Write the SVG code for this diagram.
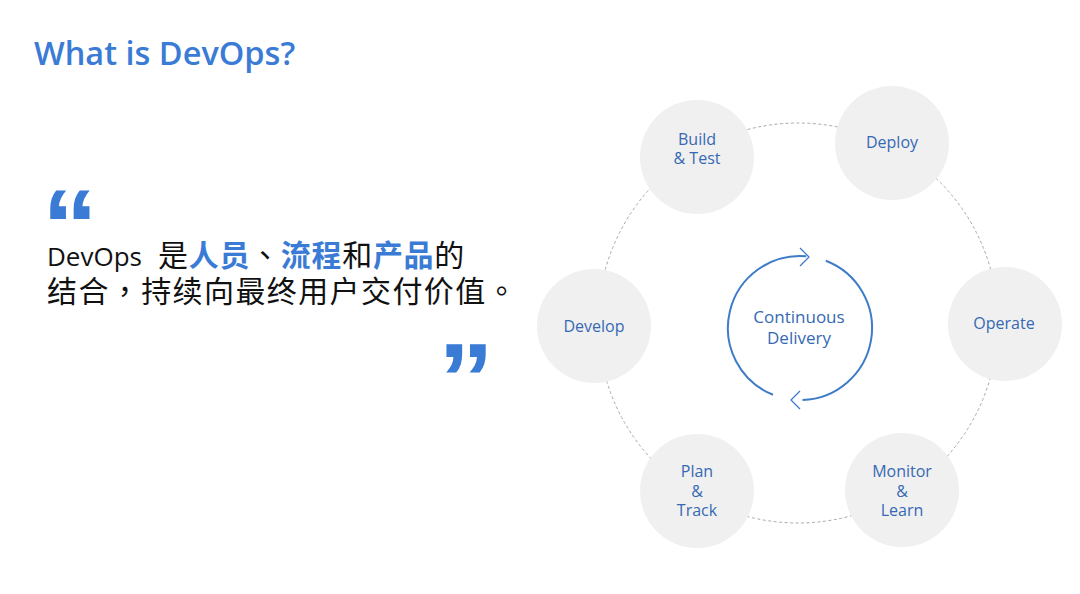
<svg xmlns="http://www.w3.org/2000/svg" width="1080" height="594" viewBox="0 0 1080 594">
  <defs>
    <style>
      .title { font-family: "Open Sans", "Noto Sans", sans-serif; font-weight: 600; font-size: 32.5px; fill: #3A7BD5; }
      .quote { font-family: "Liberation Sans", sans-serif; font-weight: bold; font-size: 100px; fill: #3A7BD5; }
      .body { font-family: "Noto Sans CJK TC", "Noto Sans CJK SC", sans-serif; font-size: 30px; fill: #111111; }
      .lat { font-family: "Open Sans", "Noto Sans", sans-serif; font-size: 26px; }
      .hl { fill: #3A7BD5; font-weight: bold; }
      .node circle { fill: #F0F0F0; }
      .lbl { font-family: "Open Sans", "Noto Sans", sans-serif; font-weight: 500; font-size: 16px; fill: #3669B4; text-anchor: middle; }
      .cd { font-family: "Open Sans", "Noto Sans", sans-serif; font-weight: 500; font-size: 17px; fill: #3669B4; text-anchor: middle; }
      .ring { fill: none; stroke: #A8A8A8; stroke-width: 1; stroke-dasharray: 3 2.5; }
      .cycle { fill: none; stroke: #3F7CC8; stroke-width: 2; }
      .head { fill: none; stroke: #3F7CC8; stroke-width: 1.3; }
    </style>
  </defs>
  <rect width="1080" height="594" fill="#FFFFFF"/>

  <text class="title" x="34" y="65">What is DevOps?</text>

  <g id="quote">
    <text class="quote" x="42" y="260" transform="translate(42 0) scale(1.12 1) translate(-42 0)">“</text>
    <text class="quote" x="438" y="413" transform="translate(438 0) scale(1.12 1) translate(-438 0)">”</text>
    <text class="body" x="47" y="266" xml:space="preserve"><tspan class="lat">DevOps </tspan><tspan x="158" letter-spacing="0.7">是<tspan class="hl">人员</tspan>、<tspan class="hl">流程</tspan>和<tspan class="hl">产品</tspan>的</tspan></text>
    <text class="body" x="47" y="302" letter-spacing="1.4">结合，持续向最终用户交付价值。</text>
  </g>

  <g id="connectors">
    <circle class="ring" cx="798" cy="323" r="200"/>
    <path class="cycle" d="M 773 394.8 A 72 72 0 0 1 806.3 256.3"/>
    <path class="cycle" d="M 825.8 260.8 A 72 72 0 0 1 802.5 400"/>
    <polyline class="head" points="800,248 809,257 800,266"/>
    <polyline class="head" points="800,391 791,400 800,409"/>
  </g>

  <g id="node-build" class="node">
    <circle cx="697" cy="157" r="57"/>
    <text class="lbl" x="697" y="145">Build</text>
    <text class="lbl" x="697" y="164">&amp; Test</text>
  </g>
  <g id="node-deploy" class="node">
    <circle cx="892" cy="143" r="57"/>
    <text class="lbl" x="892" y="148">Deploy</text>
  </g>
  <g id="node-operate" class="node">
    <circle cx="1005" cy="324" r="57"/>
    <text class="lbl" x="1004" y="329">Operate</text>
  </g>
  <g id="node-monitor" class="node">
    <circle cx="902" cy="490" r="57"/>
    <text class="lbl" x="902" y="477">Monitor</text>
    <text class="lbl" x="902" y="497">&amp;</text>
    <text class="lbl" x="902" y="516">Learn</text>
  </g>
  <g id="node-plan" class="node">
    <circle cx="697" cy="491" r="57"/>
    <text class="lbl" x="697" y="477">Plan</text>
    <text class="lbl" x="697" y="497">&amp;</text>
    <text class="lbl" x="697" y="516">Track</text>
  </g>
  <g id="node-develop" class="node">
    <circle cx="594" cy="326" r="57"/>
    <text class="lbl" x="594" y="332">Develop</text>
  </g>
  <g id="center">
    <text class="cd" x="799" y="323">Continuous</text>
    <text class="cd" x="799" y="344">Delivery</text>
  </g>
</svg>
